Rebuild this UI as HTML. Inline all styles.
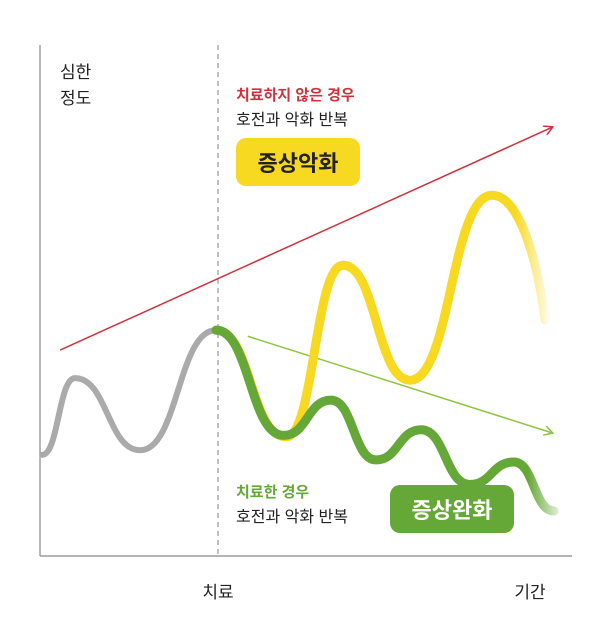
<!DOCTYPE html>
<html><head><meta charset="utf-8">
<style>
html,body{margin:0;padding:0;background:#fff;}
svg{display:block;font-family:"Liberation Sans","Noto Sans CJK KR",sans-serif;}
</style></head>
<body>
<svg id="chart" width="607" height="631" viewBox="0 0 607 631">
<defs>
<linearGradient id="yfade" gradientUnits="userSpaceOnUse" x1="515" y1="0" x2="552" y2="0">
<stop offset="0" stop-color="#f8d921" stop-opacity="1"/><stop offset="1" stop-color="#f8d921" stop-opacity="0"/></linearGradient>
<linearGradient id="gfade" gradientUnits="userSpaceOnUse" x1="528" y1="0" x2="566" y2="0">
<stop offset="0" stop-color="#65a838" stop-opacity="1"/><stop offset="1" stop-color="#65a838" stop-opacity="0"/></linearGradient>
<marker id="redHead" markerWidth="10" markerHeight="10" refX="8" refY="5" orient="auto" markerUnits="userSpaceOnUse"><path d="M0,0 L9,5 L0,10" fill="none" stroke="#d2313c" stroke-width="1.5"/></marker>
<marker id="greenHead" markerWidth="10" markerHeight="10" refX="8" refY="5" orient="auto" markerUnits="userSpaceOnUse"><path d="M0,0 L9,5 L0,10" fill="none" stroke="#8cc63f" stroke-width="1.5"/></marker>
</defs>
<line x1="40" y1="45" x2="40" y2="556" stroke="#888" stroke-width="1.2"/>
<line x1="40" y1="556" x2="572" y2="556" stroke="#888" stroke-width="1.2"/>
<line x1="218" y1="45" x2="218" y2="556" stroke="#999" stroke-width="1.2" stroke-dasharray="5,4"/>
<text x="60" y="78" font-size="17" fill="#222">심한</text>
<text x="60" y="104" font-size="17" fill="#222">정도</text>
<text x="218" y="598" font-size="17" fill="#222" text-anchor="middle">치료</text>
<text x="530" y="598" font-size="17" fill="#222" text-anchor="middle">기간</text>
<g id="trends"></g>
<g id="curves"></g>
<text x="236" y="100" font-size="15" font-weight="bold" fill="#d2313c">치료하지 않은 경우</text>
<text x="236" y="125" font-size="16" fill="#222">호전과 악화 반복</text>
<rect x="236" y="138" width="124" height="48" rx="10" fill="#f8d921"/>
<text x="298" y="171" font-size="22" font-weight="bold" fill="#222" text-anchor="middle">증상악화</text>
<text x="236" y="497" font-size="15" font-weight="bold" fill="#65a838">치료한 경우</text>
<text x="236" y="522" font-size="16" fill="#222">호전과 악화 반복</text>
<rect x="390" y="485" width="124" height="48" rx="10" fill="#65a838"/>
<text x="452" y="518" font-size="22" font-weight="bold" fill="#fff" text-anchor="middle">증상완화</text>
</svg>
<script>
// conceptual data: time (0-100) and severity (0-100)
const grayT = [0.4, 6.6, 18.9, 33.2];
const grayS = [19.8, 34.8, 20.7, 44.2];
const yellowT = [33.2, 46.4, 57.2, 69.8, 85.3, 95.3];
const yellowS = [44.2, 23.3, 56.9, 34.4, 70.6, 46.2];
const greenT = [33.2, 46.0, 54.9, 63.4, 71.9, 81.1, 89.4, 97.0];
const greenS = [44.2, 23.6, 30.5, 18.8, 24.7, 14.0, 18.4, 8.8];
const untreatedTrendT = [3.8, 96.6];
const untreatedTrendS = [40.3, 83.9];
const treatedTrendT = [39.2, 96.6];
const treatedTrendS = [43.0, 24.1];

const xs = t => 40 + t * 5.3;
const ys = s => 556 - s * 5.11;
const NS = "http://www.w3.org/2000/svg";

function wavePath(T, S, lastSlope) {
  let d = "M" + xs(T[0]) + "," + ys(S[0]);
  for (let i = 1; i < T.length; i++) {
    const x0 = xs(T[i-1]), y0 = ys(S[i-1]), x1 = xs(T[i]), y1 = ys(S[i]);
    const dx = x1 - x0;
    if (i === T.length - 1 && lastSlope) {
      d += " C" + (x0 + dx*0.5) + "," + y0 + " " + (x1 - dx*0.15) + "," + (y1 - (y1-y0)*0.5) + " " + x1 + "," + y1;
    } else {
      d += " C" + (x0 + dx*0.5) + "," + y0 + " " + (x1 - dx*0.5) + "," + y1 + " " + x1 + "," + y1;
    }
  }
  return d;
}
const curves = document.getElementById("curves");
function addCurve(T, S, stroke, w, name, lastSlope) {
  const p = document.createElementNS(NS, "path");
  p.setAttribute("d", wavePath(T, S, lastSlope));
  p.setAttribute("fill", "none");
  p.setAttribute("stroke", stroke);
  p.setAttribute("stroke-width", w);
  p.setAttribute("stroke-linecap", "round");
  
  
  curves.appendChild(p);
}
addCurve(grayT, grayS, "#aaaaaa", 6, "pre-treatment-curve", false);
addCurve(yellowT, yellowS, "url(#yfade)", 9, "untreated-curve", true);
addCurve(greenT, greenS, "url(#gfade)", 9, "treated-curve", false);

const trends = document.getElementById("trends");
function addTrend(T, S, color, marker, name) {
  const l = document.createElementNS(NS, "line");
  l.setAttribute("x1", xs(T[0])); l.setAttribute("y1", ys(S[0]));
  l.setAttribute("x2", xs(T[1])); l.setAttribute("y2", ys(S[1]));
  l.setAttribute("stroke", color); l.setAttribute("stroke-width", "1.5");
  l.setAttribute("marker-end", marker);
  
  
  trends.appendChild(l);
}
addTrend(untreatedTrendT, untreatedTrendS, "#d2313c", "url(#redHead)", "untreated-trend-arrow");
addTrend(treatedTrendT, treatedTrendS, "#8cc63f", "url(#greenHead)", "treated-trend-arrow");
</script>
</body></html>
